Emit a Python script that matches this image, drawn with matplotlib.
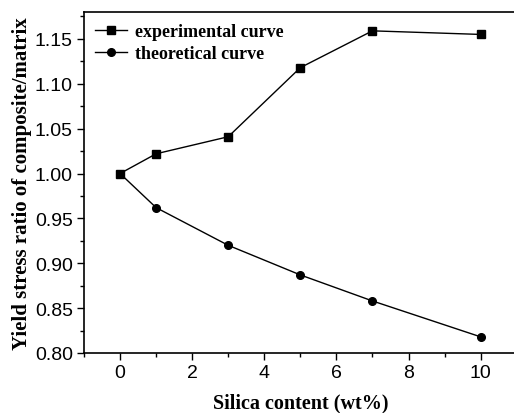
import matplotlib
matplotlib.use("Agg")
import matplotlib.pyplot as plt
from matplotlib.ticker import MultipleLocator

silica = [0, 1, 3, 5, 7, 10]
experimental = [1.000, 1.022, 1.041, 1.118, 1.159, 1.155]
theoretical = [1.000, 0.962, 0.920, 0.887, 0.858, 0.818]
xticks = [0, 2, 4, 6, 8, 10]
yticks = [0.80, 0.85, 0.90, 0.95, 1.00, 1.05, 1.10, 1.15]

fig = plt.figure(figsize=(5.14, 4.14), dpi=100)
ax = fig.add_axes([84/514, 60/414, 432.7/514, 341/414])

ax.plot(silica, experimental, '-s', color='black', lw=1.0, ms=5.5, label='experimental curve')
ax.plot(silica, theoretical, '-o', color='black', lw=1.0, ms=5.5, label='theoretical curve')

ax.set_xlim(-1, 11)
ax.set_ylim(0.80, 1.18)
ax.set_xticks(xticks)
ax.set_yticks(yticks)
ax.set_yticklabels([f"{v:.2f}" for v in yticks])
ax.xaxis.set_minor_locator(MultipleLocator(1))
ax.yaxis.set_minor_locator(MultipleLocator(0.025))
ax.tick_params(which='both', direction='out', width=1.0)
ax.tick_params(which='major', length=5, labelsize=14, pad=3)
ax.tick_params(which='minor', length=3)
for lab in ax.get_xticklabels() + ax.get_yticklabels():
    lab.set_fontfamily('Liberation Sans')
for s in ax.spines.values():
    s.set_linewidth(1.2)

ax.set_xlabel('Silica content (wt%)', fontsize=14.5, fontweight='bold', family='Liberation Serif', labelpad=8)
ax.set_ylabel('Yield stress ratio of composite/matrix', fontsize=15, fontweight='bold', family='Liberation Serif', labelpad=2)

leg = ax.legend(loc='upper left', frameon=False, prop={'family': 'Liberation Serif', 'weight': 'bold', 'size': 13},
                handlelength=1.8, handletextpad=0.4, labelspacing=0.3, borderaxespad=0.3, borderpad=0.3)

fig.savefig('out.png', dpi=100)
